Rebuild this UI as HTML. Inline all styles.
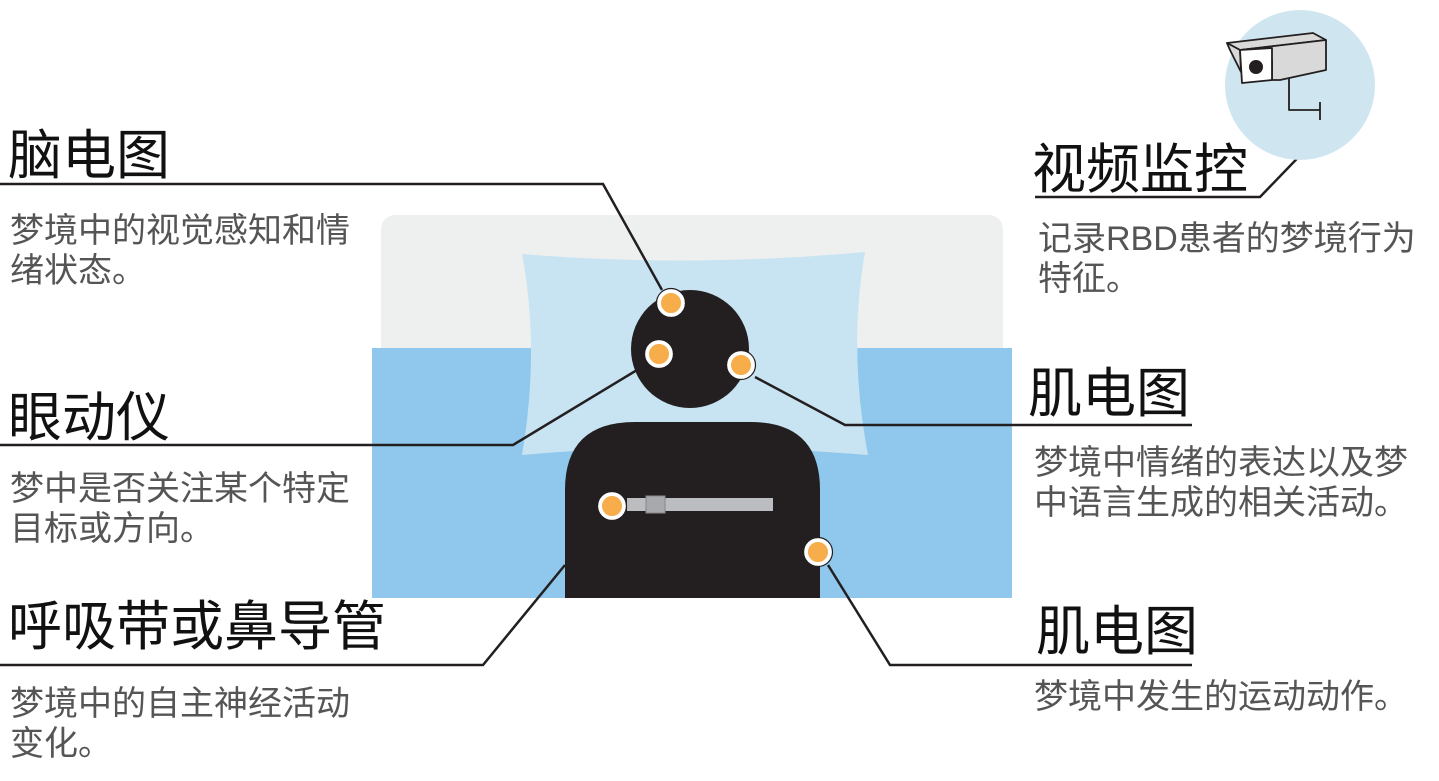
<!DOCTYPE html>
<html><head><meta charset="utf-8"><style>
body{margin:0;background:#fff;}
svg{display:block}
.t{font-family:"Liberation Sans","Noto Sans CJK SC",sans-serif;font-size:54px;fill:#111}
.d{font-family:"Liberation Sans","Noto Sans CJK SC",sans-serif;font-size:34px;fill:#555}
</style></head><body>
<svg width="1439" height="781" viewBox="0 0 1439 781">
<rect x="381" y="215" width="622" height="180" rx="14" fill="#eef0f0"/>
<rect x="372" y="348" width="640" height="250" fill="#8fc8ec"/>
<path d="M522 254 Q690 268 865 252 Q848 350 868 455 Q690 440 522 455 Q540 350 522 254Z" fill="#c8e4f2"/>
<circle cx="690" cy="349" r="59" fill="#231f20"/>
<path d="M565 598 L565 490 Q565 422 635 422 L750 422 Q820 422 820 490 L820 598Z" fill="#231f20"/>
<rect x="627" y="498" width="146" height="13" fill="#bcbdc0"/>
<rect x="646" y="496" width="19" height="17" fill="#a8a9ac" stroke="#888" stroke-width="1"/>
<g stroke="#231f20" stroke-width="2.5" fill="none">
<polyline points="0,184 603,184 662,290"/>
<polyline points="0,445 513,445 637,370"/>
<polyline points="0,665 483,665 565,565"/>
<polyline points="755,377 845,425 1192,425"/>
<polyline points="828,565 890,665 1192,665"/>
<polyline points="1315,140 1260,197 1035,197"/>
</g>
<g fill="#f6ad4a" stroke="#fff" stroke-width="4">
<circle cx="671" cy="303" r="12"/><circle cx="659" cy="354" r="12"/><circle cx="741" cy="365" r="12"/><circle cx="612" cy="506" r="12"/><circle cx="818" cy="552" r="12"/>
</g>
<g fill="none" stroke="#231f20" stroke-width="1.2">
<circle cx="671" cy="303" r="14.5"/><circle cx="659" cy="354" r="14.5"/><circle cx="741" cy="365" r="14.5"/><circle cx="612" cy="506" r="14.5"/><circle cx="818" cy="552" r="14.5"/>
</g>
<circle cx="1300" cy="85" r="75" fill="#cfe6f1"/>
<g stroke="#231f20" stroke-width="1.8" stroke-linejoin="round" fill="#d9d9da">
<polygon points="1227,43 1313,33 1326,40 1240,50"/>
<polygon points="1240,50 1326,40 1326,70 1280,80 1272,80 1272,60"/>
<polygon points="1227,43 1240,50 1241,72 1230,50"/>
<polygon points="1240,50 1272,48 1272,80 1242,83" fill="#fff"/>
<polyline points="1289,78 1289,110 1320,110" fill="none"/>
<line x1="1320" y1="102" x2="1320" y2="120"/>
</g>
<circle cx="1256" cy="67" r="7" fill="#231f20"/>
<text class="t" x="8" y="174">脑电图</text>
<text class="d" x="10" y="242">梦境中的视觉感知和情</text>
<text class="d" x="10" y="282">绪状态。</text>
<text class="t" x="8" y="436">眼动仪</text>
<text class="d" x="10" y="500">梦中是否关注某个特定</text>
<text class="d" x="10" y="540">目标或方向。</text>
<text class="t" x="8" y="645">呼吸带或鼻导管</text>
<text class="d" x="10" y="715">梦境中的自主神经活动</text>
<text class="d" x="10" y="755">变化。</text>
<text class="t" x="1032" y="188">视频监控</text>
<text class="d" x="1038" y="250">记录RBD患者的梦境行为</text>
<text class="d" x="1038" y="290">特征。</text>
<text class="t" x="1028" y="412">肌电图</text>
<text class="d" x="1034" y="474">梦境中情绪的表达以及梦</text>
<text class="d" x="1034" y="514">中语言生成的相关活动。</text>
<text class="t" x="1036" y="650">肌电图</text>
<text class="d" x="1034" y="708">梦境中发生的运动动作。</text>
</svg>
</body></html>
